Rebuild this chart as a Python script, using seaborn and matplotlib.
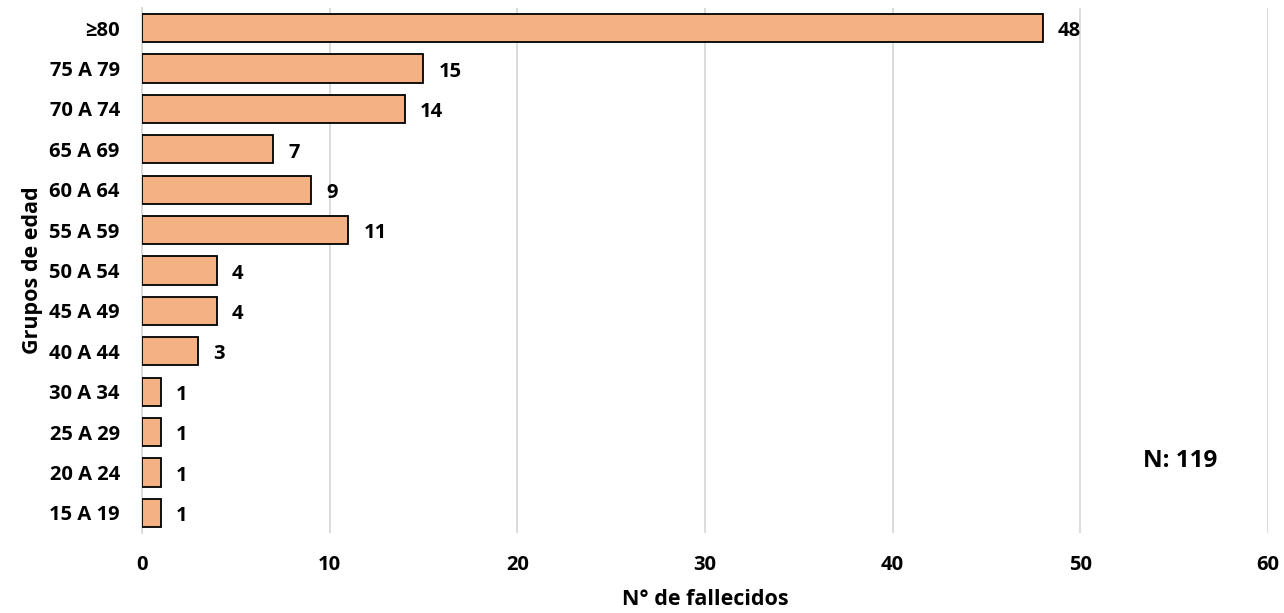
import pandas as pd
import matplotlib.pyplot as plt
import seaborn as sns

### data, top to bottom
grupos = ['≥80', '75 A 79', '70 A 74', '65 A 69', '60 A 64', '55 A 59', '50 A 54',
          '45 A 49', '40 A 44', '30 A 34', '25 A 29', '20 A 24', '15 A 19']
fallecidos = [48, 15, 14, 7, 9, 11, 4, 4, 3, 1, 1, 1, 1]
x_ticks = [0, 10, 20, 30, 40, 50, 60]

df = pd.DataFrame({'grupo': grupos, 'n': fallecidos})

sns.set_style('white')
plt.rcParams['font.family'] = ['Open Sans', 'DejaVu Sans']
plt.rcParams['font.weight'] = 'bold'
for k in ['text.color', 'axes.labelcolor', 'xtick.color', 'ytick.color']:
    plt.rcParams[k] = 'black'

fig = plt.figure(figsize=(12.84, 6.13), dpi=100)
ax = fig.add_axes([0.1106, 0.1305, 0.8769, 0.8565])

sns.barplot(data=df, x='n', y='grupo', order=grupos, orient='h', color='#F4B183',
            edgecolor='black', linewidth=1.3, width=0.7, saturation=1, ax=ax, zorder=3)

for i, v in enumerate(fallecidos):
    ax.text(v + 0.8, i + 0.08, str(v), va='center', ha='left', fontsize=14.5, fontweight='bold')

ax.text(55.3, 10.72, 'N: 119', ha='center', va='center', fontsize=17.5, fontweight='bold')

ax.set_xlim(0, 60)
ax.set_ylim(12.5, -0.5)
ax.set_xticks(x_ticks)
ax.xaxis.grid(True, color='#D9D9D9', linewidth=1.3, zorder=0)
ax.tick_params(axis='both', length=0, labelsize=14.5)
ax.tick_params(axis='x', pad=16)
ax.tick_params(axis='y', pad=16)
for lbl in ax.get_xticklabels() + ax.get_yticklabels():
    lbl.set_fontweight('bold')

for s in ['top', 'right', 'bottom']:
    ax.spines[s].set_visible(False)
ax.spines['left'].set_color('#D9D9D9')
ax.spines['left'].set_linewidth(1.3)

ax.set_xlabel('N° de fallecidos', fontsize=15.5, fontweight='bold', labelpad=10)
ax.set_ylabel('Grupos de edad', fontsize=15.5, fontweight='bold', labelpad=4)

fig.savefig('out.png', dpi=100)
